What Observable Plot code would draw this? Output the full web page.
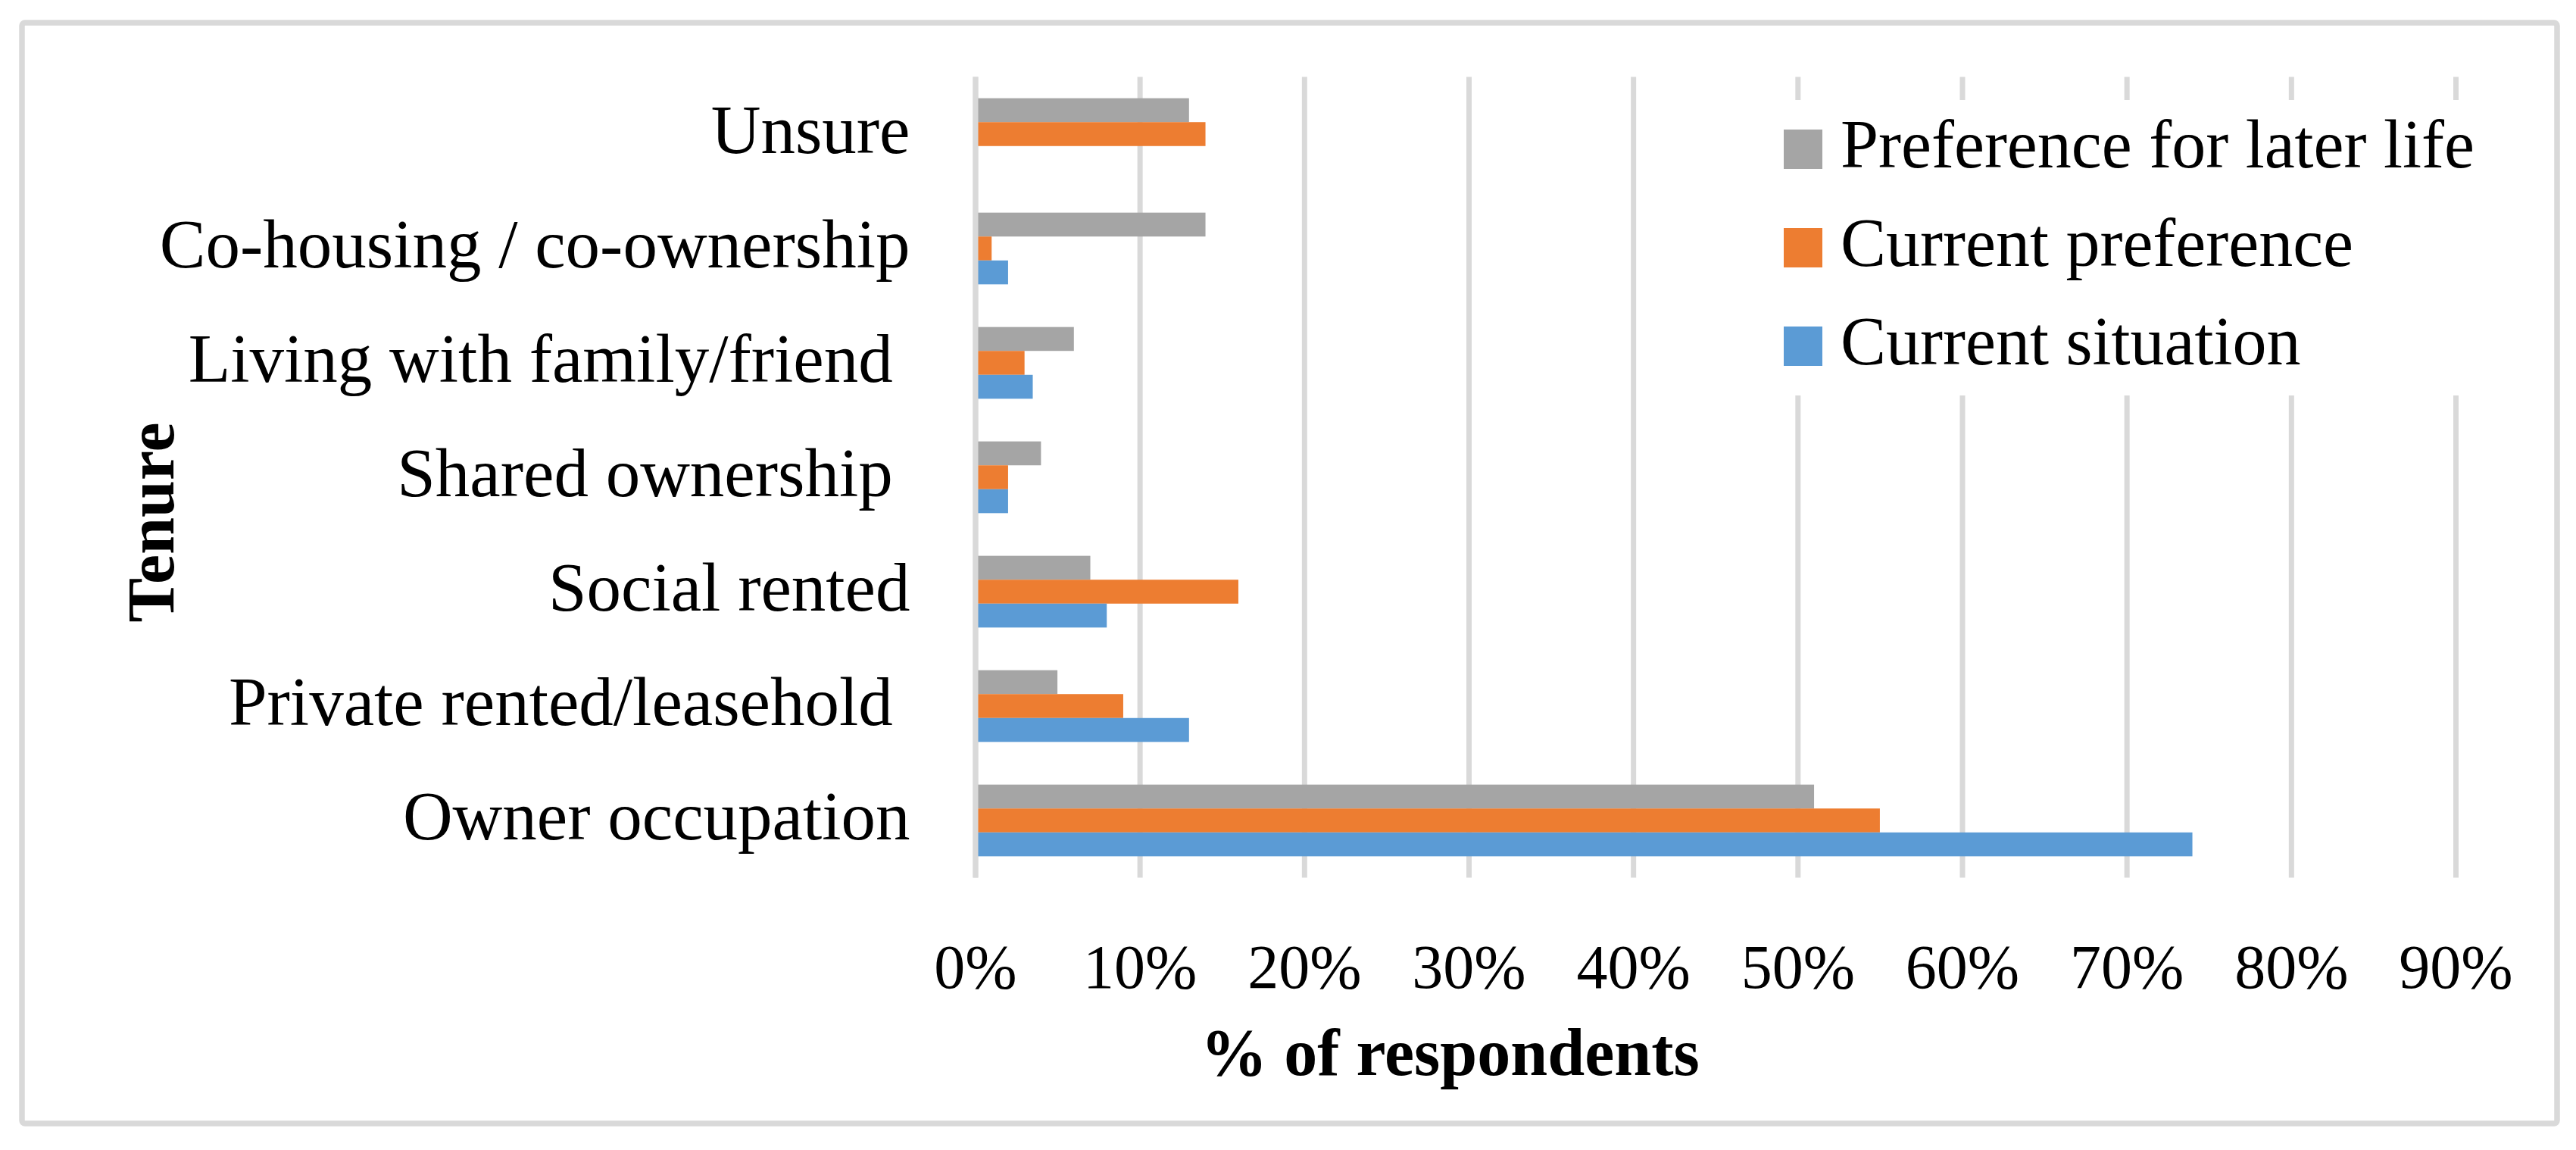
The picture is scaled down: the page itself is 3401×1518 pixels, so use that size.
<!DOCTYPE html>
<html>
<head>
<meta charset="utf-8">
<script src="https://cdn.jsdelivr.net/npm/d3@7"></script>
<script src="https://cdn.jsdelivr.net/npm/@observablehq/plot@0.6"></script>
<style>
  html, body { margin: 0; padding: 0; background: #fff; }
  #chart svg { display: block; font-family: 'Liberation Serif', 'Times New Roman', serif; white-space: pre; }
</style>
</head>
<body>
<div id="chart"></div>
<script>
// ---- data ----
const categories = [
  "Owner occupation",
  "Private rented/leasehold ",
  "Social rented",
  "Shared ownership ",
  "Living with family/friend ",
  "Co-housing / co-ownership",
  "Unsure"
];
const seriesNames = ["Preference for later life", "Current preference", "Current situation"];
const seriesColors = ["#A5A5A5", "#ED7D31", "#5B9BD5"];
const preferenceLaterLife = [51, 5, 7, 4, 6, 14, 13];
const currentPreference   = [55, 9, 16, 2, 3, 1, 14];
const currentSituation    = [74, 13, 8, 2, 3.5, 2, 0];
const tickValues = [0, 10, 20, 30, 40, 50, 60, 70, 80, 90];
const tickLabels = ["0%", "10%", "20%", "30%", "40%", "50%", "60%", "70%", "80%", "90%"];
const xTitle = "% of respondents";
const yTitle = "Tenure";

// ---- layout ----
const W = 3401, H = 1518;
const mL = 1287.5, mR = 159, mT = 101.5, mB = 359.5;
const padIn = 0.373, padOut = padIn / 2;
const n = categories.length;
const step = (H - mT - mB) / (n - padIn + 2 * padOut);
const bw = step * (1 - padIn);
const seg = bw / 3;

const seriesValues = [preferenceLaterLife, currentPreference, currentSituation];
const rowsFor = (vals) => categories.map((c, i) => ({category: c, value: vals[i]}));

const chart = Plot.plot({
  width: W,
  height: H,
  marginLeft: mL,
  marginRight: mR,
  marginTop: mT,
  marginBottom: mB,
  x: {domain: [0, 90]},
  y: {domain: categories.slice().reverse(), paddingInner: padIn, paddingOuter: padOut, round: false},
  marks: [
    Plot.ruleX(tickValues, {stroke: "#d9d9d9", strokeWidth: 7}),
    ...seriesValues.map((vals, k) =>
      Plot.barX(rowsFor(vals), {
        x: "value",
        y: "category",
        fill: seriesColors[k],
        insetTop: k * seg,
        insetBottom: (2 - k) * seg
      })
    ),
    Plot.ruleX([0], {stroke: "#d9d9d9", strokeWidth: 7}),
    Plot.axisX(tickValues, {
      tickSize: 0,
      tickPadding: 87,
      fontSize: 82,
      tickFormat: (d) => tickLabels[tickValues.indexOf(d)],
      label: null
    }),
    Plot.axisY({tickSize: 0, tickPadding: 86.5, fontSize: 91, label: null, dy: -5}),
    Plot.text([yTitle], {
      text: (d) => d,
      frameAnchor: "left",
      rotate: -90,
      textAnchor: "middle",
      lineAnchor: "bottom",
      dx: 228 - mL,
      dy: 689 - (mT + (H - mT - mB) / 2),
      fontSize: 88,
      fontWeight: "bold",
      fill: "#000"
    }),
    Plot.text([xTitle], {
      text: (d) => d,
      frameAnchor: "bottom",
      textAnchor: "middle",
      lineAnchor: "bottom",
      dx: 1914 - (mL + (W - mL - mR) / 2),
      dy: 1418 - (H - mB),
      fontSize: 88,
      fontWeight: "bold",
      fill: "#000"
    })
  ]
});

// outer chart border + legend overlay
const svg = d3.select(chart);
svg.append("rect")
  .attr("x", 29).attr("y", 30)
  .attr("width", 3347).attr("height", 1453)
  .attr("rx", 4)
  .attr("fill", "none")
  .attr("stroke", "#d9d9d9")
  .attr("stroke-width", 7.5);

const lg = svg.append("g").attr("text-anchor", "start");
lg.append("rect")
  .attr("x", 2320).attr("y", 132)
  .attr("width", 990).attr("height", 390)
  .attr("fill", "#fff");
seriesNames.forEach((name, k) => {
  lg.append("rect")
    .attr("x", 2355).attr("y", 171 + k * 130)
    .attr("width", 51).attr("height", 52)
    .attr("fill", seriesColors[k]);
  lg.append("text")
    .attr("x", 2430).attr("y", 221 + k * 130)
    .attr("text-anchor", "start")
    .attr("font-size", 90)
    .attr("fill", "#000")
    .text(name);
});

document.getElementById("chart").appendChild(chart);
</script>
</body>
</html>
